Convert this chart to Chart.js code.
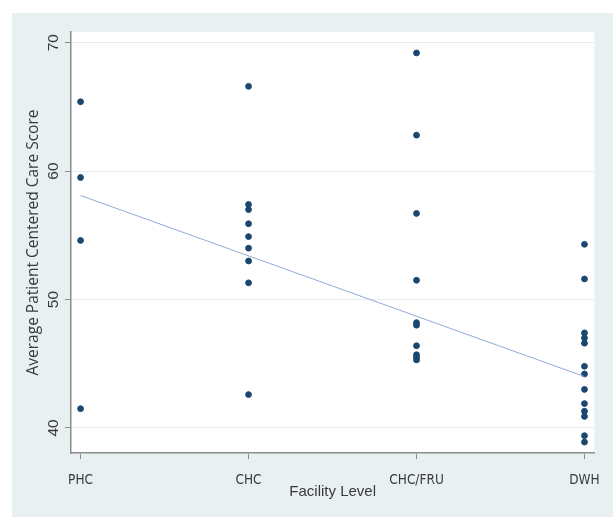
<!DOCTYPE html>
<html><head><meta charset="utf-8">
<script src="https://cdn.jsdelivr.net/npm/chart.js@4"></script>
<style>html,body{margin:0;padding:0;background:#fff;}</style>
</head><body>
<canvas id="c" width="613" height="518" style="display:block;width:613px;height:518px"></canvas>
<script>
const categories = ['PHC', 'CHC', 'CHC/FRU', 'DWH'];
const phcScores = [65.4, 59.5, 54.6, 41.5];
const chcScores = [66.6, 57.4, 57.0, 55.9, 54.9, 54.0, 53.0, 51.3, 42.6];
const chcFruScores = [69.2, 62.8, 56.7, 51.5, 48.2, 48.0, 46.4, 45.7, 45.5, 45.3];
const dwhScores = [54.3, 51.6, 47.4, 47.0, 46.6, 44.8, 44.2, 43.0, 41.9, 41.3, 40.9, 39.4, 38.9];
const fitLine = [58.1, 44.0];          // fitted values at PHC and at DWH
const yTicks = [40, 50, 60, 70];
const yTitle = 'Average Patient Centered Care Score';
const xTitle = 'Facility Level';

const groups = [phcScores, chcScores, chcFruScores, dwhScores];
const scatterPoints = [];
groups.forEach((g, i) => g.forEach(v => scatterPoints.push({ x: i + 1, y: v })));
const fitPoints = [{ x: 1, y: fitLine[0] }, { x: categories.length, y: fitLine[1] }];

const bgPlugin = {
  id: 'bg',
  beforeDraw(chart) {
    const { ctx, chartArea: a } = chart;
    ctx.save();
    ctx.fillStyle = '#ffffff';
    ctx.fillRect(0, 0, chart.width, chart.height);
    ctx.fillStyle = '#e9f0f2';
    ctx.fillRect(12, 13, chart.width - 12, chart.height - 14);
    ctx.fillStyle = '#ffffff';
    ctx.fillRect(a.left, a.top, a.right - a.left, a.bottom - a.top);
    ctx.restore();
  }
};

const axisGray = '#8c8c8c';
const textColor = '#3a3a3a';

new Chart(document.getElementById('c'), {
  type: 'scatter',
  data: {
    datasets: [
      {
        type: 'line',
        data: fitPoints,
        borderColor: '#93abd8',
        borderWidth: 1,
        pointRadius: 0,
        fill: false
      },
      {
        type: 'scatter',
        data: scatterPoints,
        backgroundColor: '#1a476f',
        borderColor: '#1a476f',
        borderWidth: 1,
        pointRadius: 2.9
      }
    ]
  },
  options: {
    responsive: false,
    animation: false,
    events: [],
    layout: { padding: { left: 12, top: 32, right: 14, bottom: 0 } },
    plugins: { legend: { display: false }, tooltip: { enabled: false } },
    scales: {
      x: {
        type: 'linear',
        min: 0.943,
        max: 4.059,
        afterBuildTicks: s => { s.ticks = categories.map((c, i) => ({ value: i + 1 })); },
        afterFit: s => { s.height = 65; },
        ticks: {
          callback: v => categories[Math.round(v) - 1] || '',
          autoSkip: false, maxRotation: 0, minRotation: 0,
          padding: 13,
          color: textColor,
          font: { family: "'DejaVu Sans Condensed', 'Liberation Sans Narrow', sans-serif", size: 13.5 }
        },
        grid: { drawOnChartArea: false, drawTicks: true, tickLength: 6, tickColor: axisGray, tickWidth: 1 },
        border: { display: true, color: axisGray, width: 1.5 },
        title: {
          display: true, text: xTitle, color: textColor,
          font: { family: "'Liberation Sans', Arial, sans-serif", size: 15 },
          padding: { top: 0, bottom: 17 }
        }
      },
      y: {
        type: 'linear',
        min: 38.05,
        max: 70.83,
        afterBuildTicks: s => { s.ticks = yTicks.map(v => ({ value: v })); },
        afterFit: s => { s.width = 59; },
        ticks: {
          minRotation: 90, maxRotation: 90,
          crossAlign: 'center',
          padding: 3,
          color: textColor,
          font: { family: "'Liberation Sans', Arial, sans-serif", size: 15.5 }
        },
        grid: { color: '#e4ecef', lineWidth: 1, drawTicks: true, tickLength: 6, tickColor: axisGray, tickWidth: 1 },
        border: { display: true, color: axisGray, width: 1.5 },
        title: {
          display: true, text: yTitle, color: textColor,
          font: { family: "'Open Sans', sans-serif", size: 15.5 },
          padding: { top: 12, bottom: 0 }
        }
      }
    }
  },
  plugins: [bgPlugin]
});
</script>
</body></html>
